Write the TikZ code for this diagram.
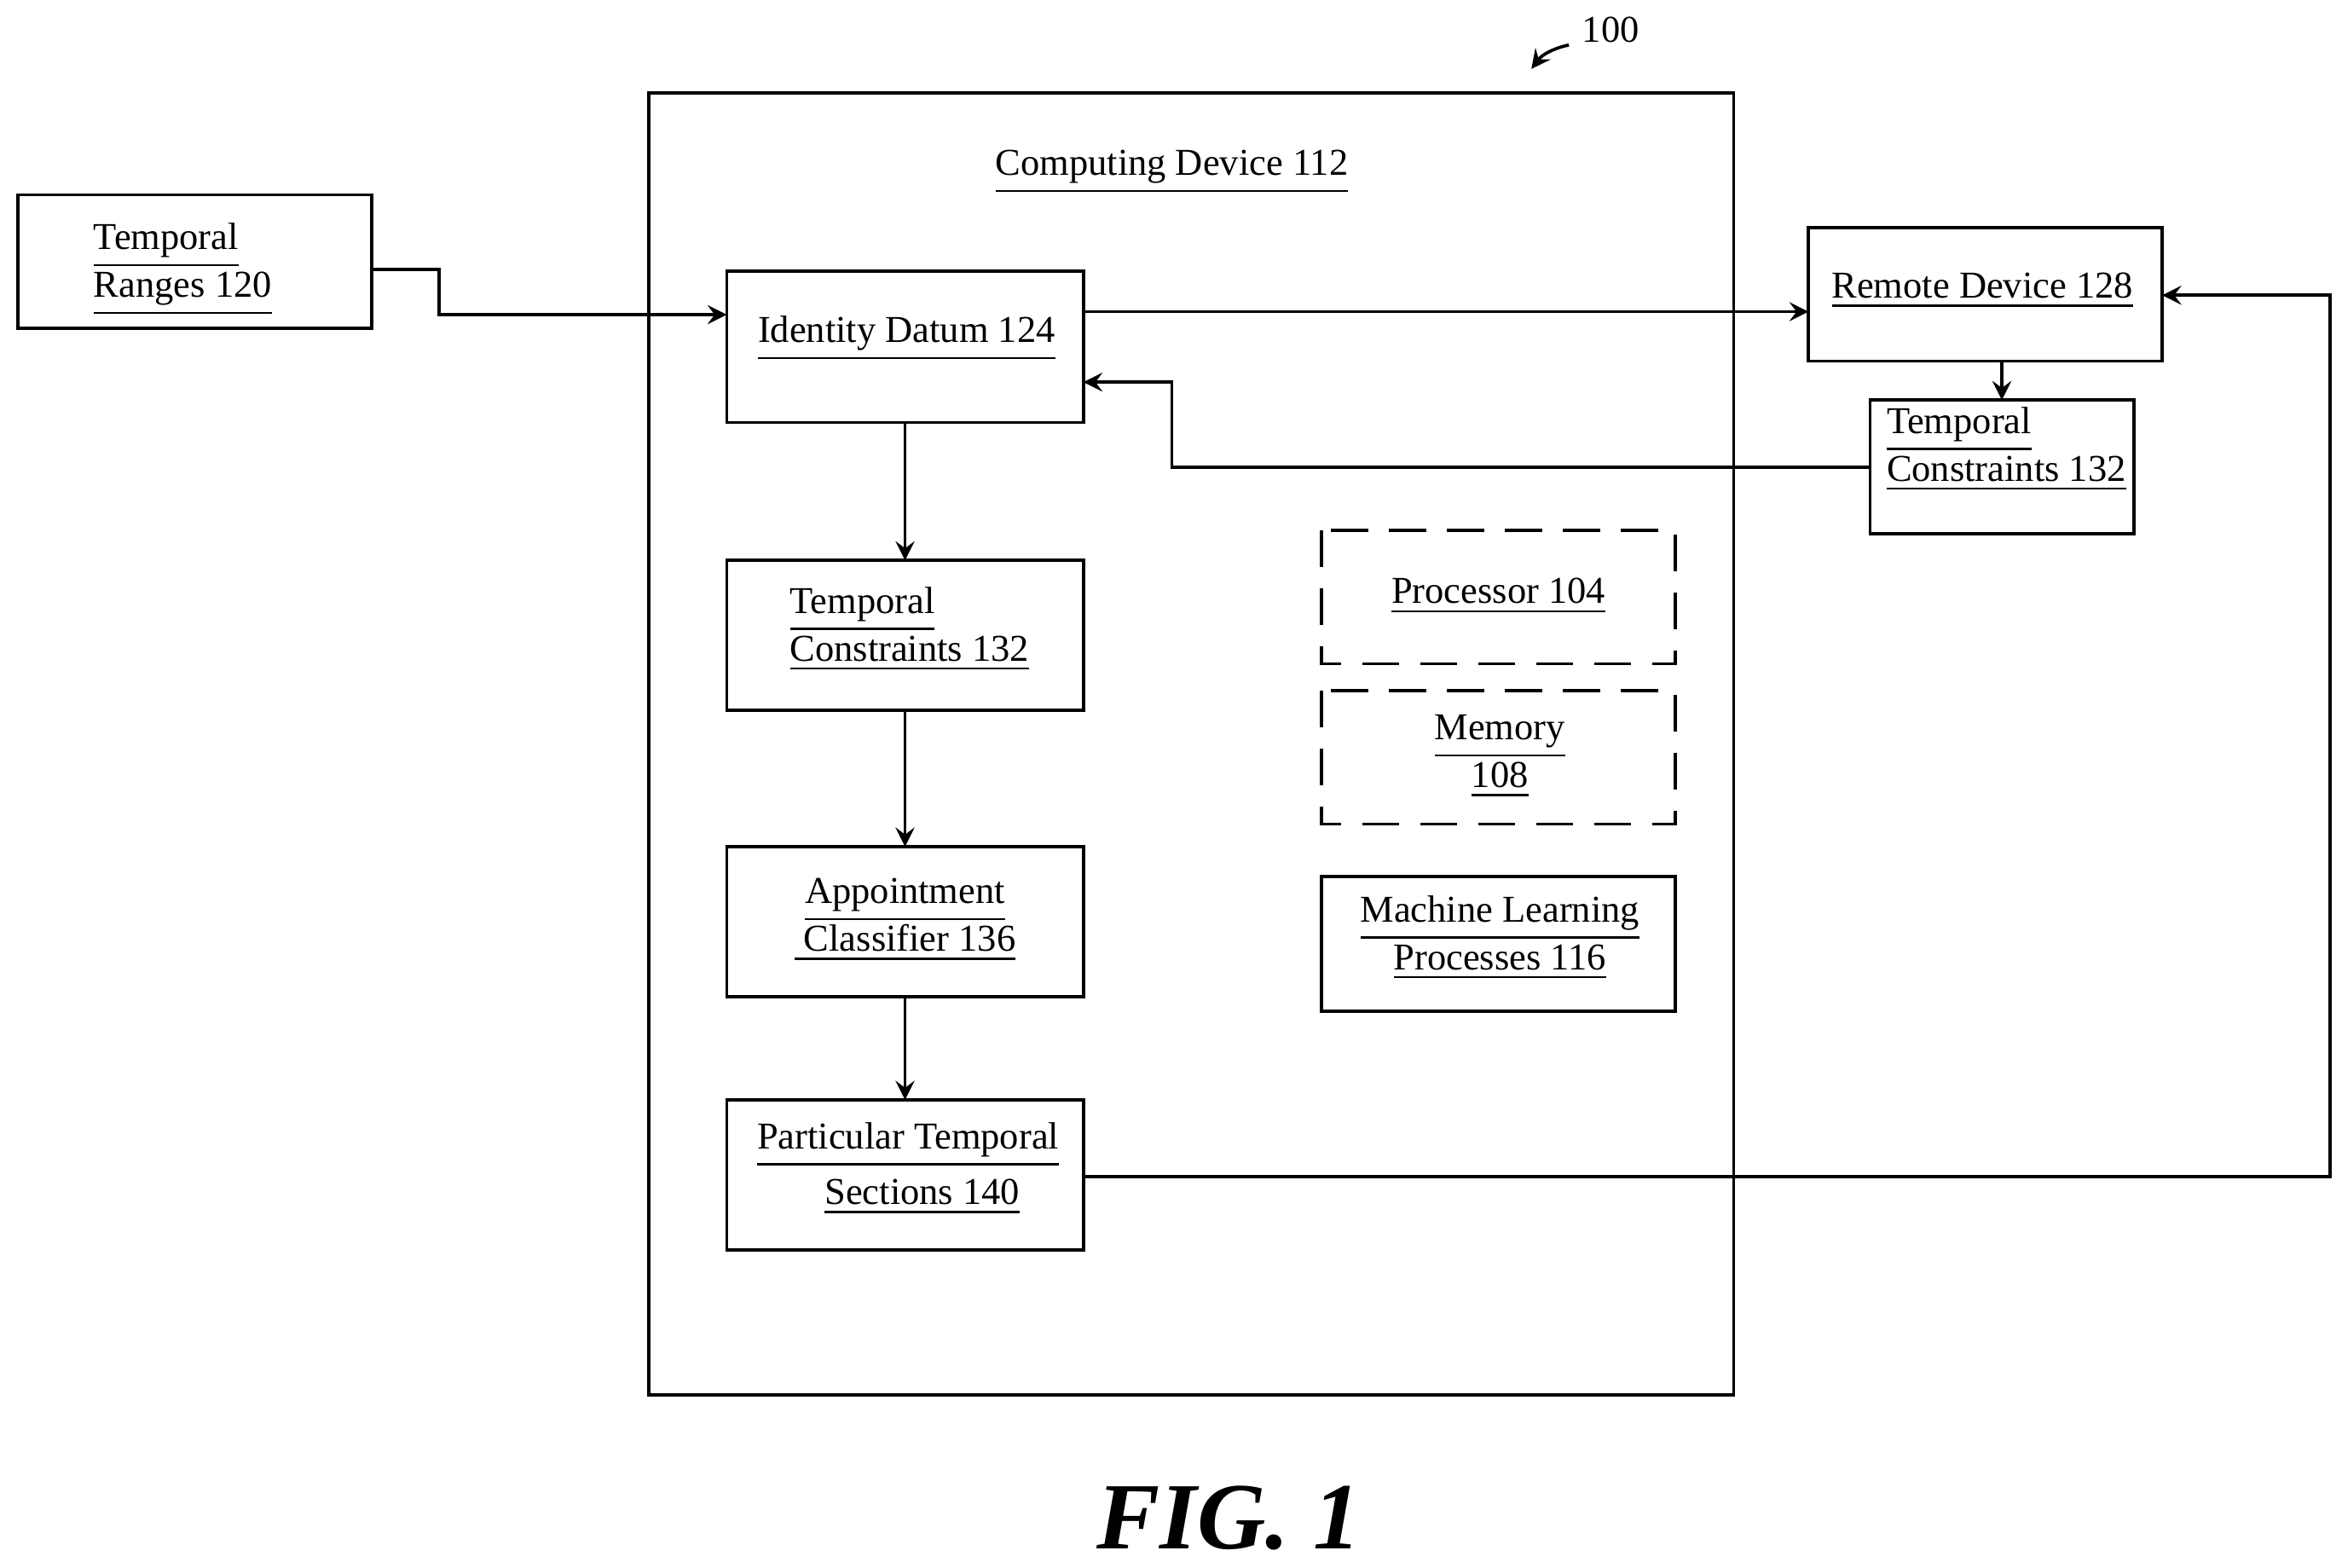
\documentclass[tikz,border=0pt]{standalone}
\usepackage{fontspec}
\setmainfont{Liberation Serif}
\usetikzlibrary{arrows}
\tikzstyle{block}  = [rectangle, draw=black, semithick, inner sep=0pt]
\tikzstyle{dblock} = [rectangle, draw=black, semithick, dash pattern=on 7pt off 4pt, inner sep=0pt]
\tikzstyle{txt}    = [font=\fontsize{7.2}{9}\selectfont, align=center, inner sep=0pt]
\tikzstyle{arrow}  = [semithick,->,>=stealth]
\newcommand{\ul}[1]{\underline{#1}}

\begin{document}
\begin{tikzpicture}[x=0.01cm, y=-0.01cm]
    \useasboundingbox (0,0) rectangle (1563,1046);
    % Outer device
    \draw [block] (433,62) rectangle (1157,931);
    \node (device_label) [txt] at (782,115) {\ul{Computing Device 112}};
    \node (ref_label) [txt] at (1075,20) {100};
    \draw [arrow] (1047,30) to[bend right=20] (1022,46);

    % Boxes
    \draw [block] (12,130) rectangle (248,219);
    \node (temporal_ranges) [txt, align=left] at (122,180) {\ul{Temporal}\\\ul{Ranges 120}};
    \draw [block] (485,181) rectangle (723,282);
    \node (identity) [txt] at (605,226) {\ul{Identity Datum 124}};
    \draw [block] (485,374) rectangle (723,474);
    \node (constraints) [txt, align=left] at (607,420) {\ul{Temporal}\\\ul{Constraints 132}};
    \draw [block] (485,565) rectangle (723,665);
    \node (classifier) [txt] at (604,614) {\ul{Appointment}\\\ul{ Classifier 136}};
    \draw [block] (485,734) rectangle (723,834);
    \node (sections) [txt, font=\fontsize{7.2}{10.5}\selectfont] at (606,780) {\ul{Particular Temporal}\\\ \ \ \ul{Sections 140}};
    \draw [dblock] (882,354) rectangle (1118,443);
    \node (processor) [txt] at (1000,398) {\ul{Processor 104}};
    \draw [dblock] (882,461) rectangle (1118,550);
    \node (memory) [txt] at (1001,505) {\ul{Memory}\\\ul{108}};
    \draw [block] (882,585) rectangle (1118,675);
    \node (ml) [txt] at (1001,626) {\ul{Machine Learning}\\\ul{Processes 116}};
    \draw [block] (1207,152) rectangle (1443,241);
    \node (remote) [txt] at (1323,194) {\ul{Remote Device 128}};
    \draw [block] (1248,267) rectangle (1424,356);
    \node (remote_constraints) [txt, align=left] at (1339,300) {\ul{Temporal}\\\ul{Constraints 132}};

    % Arrows
    \draw [arrow] (248,180) -- (293,180) -- (293,210) -- (485,210);
    \draw [arrow] (723,208) -- (1207,208);
    \draw [arrow] (1336,241) -- (1336,267);
    \draw [arrow] (1248,312) -- (782,312) -- (782,255) -- (723,255);
    \draw [arrow] (604,282) -- (604,374);
    \draw [arrow] (604,474) -- (604,565);
    \draw [arrow] (604,665) -- (604,734);
    \draw [arrow] (723,785) -- (1555,785) -- (1555,197) -- (1443,197);

    % Figure caption
    \node (caption) [font=\fontsize{18}{20}\selectfont\bfseries\itshape] at (820,1013) {FIG. 1};
\end{tikzpicture}
\end{document}
